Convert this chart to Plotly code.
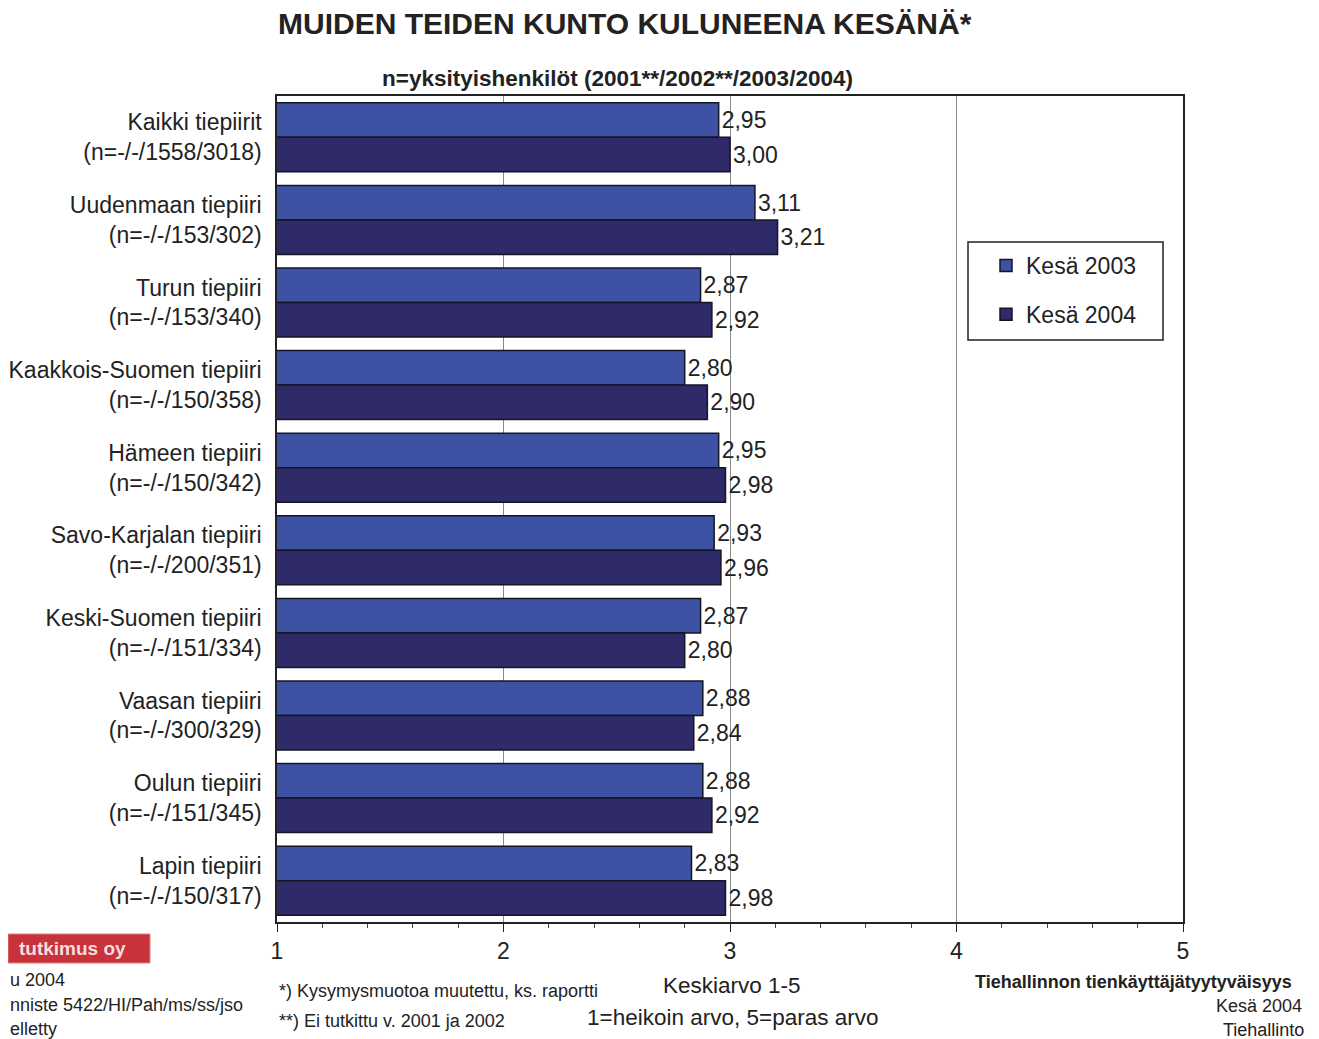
import plotly.graph_objects as go

categories = [
    "Kaikki tiepiirit<br>(n=-/-/1558/3018)",
    "Uudenmaan tiepiiri<br>(n=-/-/153/302)",
    "Turun tiepiiri<br>(n=-/-/153/340)",
    "Kaakkois-Suomen tiepiiri<br>(n=-/-/150/358)",
    "Hämeen tiepiiri<br>(n=-/-/150/342)",
    "Savo-Karjalan tiepiiri<br>(n=-/-/200/351)",
    "Keski-Suomen tiepiiri<br>(n=-/-/151/334)",
    "Vaasan tiepiiri<br>(n=-/-/300/329)",
    "Oulun tiepiiri<br>(n=-/-/151/345)",
    "Lapin tiepiiri<br>(n=-/-/150/317)",
]
kesa_2003 = [2.95, 3.11, 2.87, 2.80, 2.95, 2.93, 2.87, 2.88, 2.88, 2.83]
kesa_2004 = [3.00, 3.21, 2.92, 2.90, 2.98, 2.96, 2.80, 2.84, 2.92, 2.98]
x_ticks = [1, 2, 3, 4, 5]

# page has an 8px body margin; layout measured in window pixels
OFF = 8
W, H = 1319 - OFF, 1039 - OFF
L, R, T, B = 277, 1183, 96, 922  # plot area in window pixels


def px(x):
    return (x - L) / (R - L)


def py(y):
    return (B - y) / (B - T)


def fmt(v):
    return f"{v:.2f}".replace(".", ",")


FONT = "Liberation Sans, Arial, sans-serif"
TXT = "#222222"

fig = go.Figure()
fig.add_trace(go.Bar(
    y=categories, x=kesa_2003, orientation="h", name="Kesä 2003",
    marker=dict(color="#3d52a2", line=dict(color="#151528", width=1.5)),
    text=[fmt(v) for v in kesa_2003], textposition="outside",
    textfont=dict(size=23, color=TXT, family=FONT),
    legendgroup="a",
))
fig.add_trace(go.Bar(
    y=categories, x=kesa_2004, orientation="h", name="Kesä 2004",
    marker=dict(color="#2e2b68", line=dict(color="#151528", width=1.5)),
    text=[fmt(v) for v in kesa_2004], textposition="outside",
    textfont=dict(size=23, color=TXT, family=FONT),
    legendgroup="b",
))

annotations = [
    dict(x=px(625), y=py(23), text="<b>MUIDEN TEIDEN KUNTO KULUNEENA KESÄNÄ*</b>",
         font=dict(size=30, color=TXT), height=28, borderpad=0),
    dict(x=px(617), y=py(79), text="<b>n=yksityishenkilöt (2001**/2002**/2003/2004)</b>",
         font=dict(size=22.5, color=TXT)),
    dict(x=px(277), y=py(991), xanchor="left", text="*) Kysymysmuotoa muutettu, ks. raportti",
         font=dict(size=18, color=TXT)),
    dict(x=px(277), y=py(1021), xanchor="left", text="**) Ei tutkittu v. 2001 ja 2002",
         font=dict(size=18, color=TXT)),
    dict(x=px(732), y=py(986), text="Keskiarvo 1-5", font=dict(size=22.5, color=TXT)),
    dict(x=px(732), y=py(1017), text="1=heikoin arvo, 5=paras arvo", font=dict(size=22.5, color=TXT)),
    dict(x=px(1294), y=py(982), xanchor="right", text="<b>Tiehallinnon tienkäyttäjätyytyväisyys</b>",
         font=dict(size=18, color=TXT)),
    dict(x=px(1304), y=py(1006), xanchor="right", text="Kesä 2004", font=dict(size=18, color=TXT)),
    dict(x=px(1306), y=py(1030), xanchor="right", text="Tiehallinto", font=dict(size=18, color=TXT)),
    dict(x=px(128), y=py(948), xanchor="right", text="<b>tutkimus oy</b>",
         font=dict(size=19, color="#f4dede")),
    dict(x=px(8), y=py(980), xanchor="left", text="u 2004", font=dict(size=18, color=TXT)),
    dict(x=px(8), y=py(1005), xanchor="left", text="nniste 5422/HI/Pah/ms/ss/jso",
         font=dict(size=18, color=TXT)),
    dict(x=px(8), y=py(1029), xanchor="left", text="elletty", font=dict(size=18, color=TXT)),
]
for a in annotations:
    a.update(xref="paper", yref="paper", showarrow=False)
    a.setdefault("xanchor", "center")
    a.setdefault("yanchor", "middle")

shapes = [
    dict(type="rect", xref="paper", yref="paper", x0=px(8), x1=px(150), y0=py(934), y1=py(963),
         fillcolor="#c8323a", line=dict(color="#e08080", width=1), layer="above"),
    dict(type="rect", xref="paper", yref="paper", x0=px(968), x1=px(1163), y0=py(242), y1=py(340),
         fillcolor="rgba(0,0,0,0)", line=dict(color=TXT, width=1.5), layer="above"),
]

fig.update_layout(
    width=W, height=H,
    margin=dict(l=L - OFF, r=W - (R - OFF), t=T - OFF, b=H - (B - OFF), autoexpand=False),
    paper_bgcolor="white", plot_bgcolor="white",
    font=dict(family=FONT, size=23, color=TXT),
    barmode="group", bargap=0.165, bargroupgap=0.0,
    annotations=annotations, shapes=shapes,
    legend=dict(
        x=px(986), y=py(244), xanchor="left", yanchor="top",
        borderwidth=0, bgcolor="rgba(0,0,0,0)",
        font=dict(size=23), traceorder="grouped", tracegroupgap=16,
        itemwidth=30,
    ),
    showlegend=True,
)
fig.update_xaxes(
    range=[1, 5], tickvals=x_ticks, ticktext=[str(v) for v in x_ticks],
    showgrid=True, gridcolor="#8a8a8a", gridwidth=1,
    showline=True, linecolor=TXT, linewidth=1.5, mirror=True,
    ticks="outside", ticklen=8, tickcolor=TXT,
    minor=dict(dtick=0.2, ticks="outside", ticklen=4, tickcolor="#444444"),
    tickfont=dict(size=23), zeroline=False,
)
fig.update_yaxes(
    autorange="reversed", showline=True, linecolor=TXT, linewidth=1.5, mirror=True,
    ticks="", tickfont=dict(size=23), ticklabelstandoff=9, showgrid=False,
)

fig.write_html("out.html")
